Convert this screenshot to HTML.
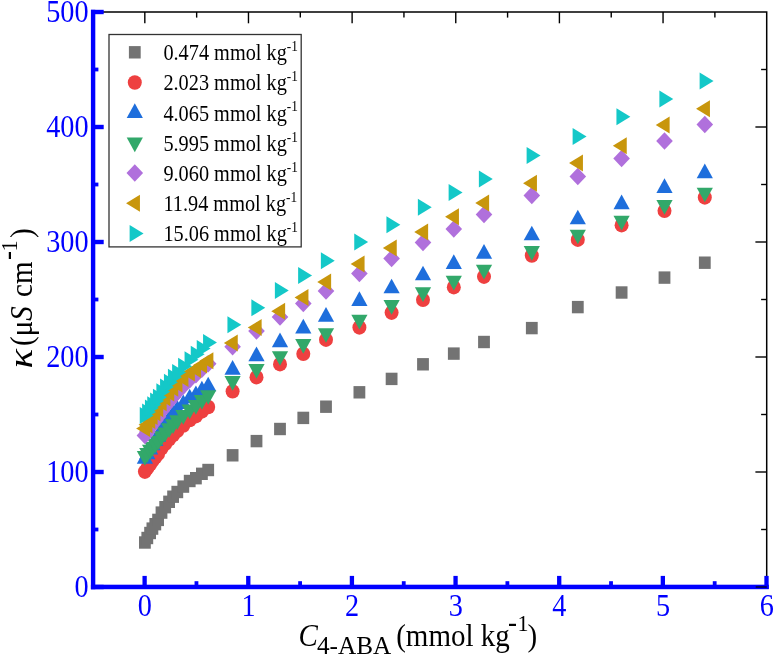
<!DOCTYPE html>
<html><head><meta charset="utf-8"><title>chart</title>
<style>
html,body{margin:0;padding:0;background:#fff;}
body{width:774px;height:657px;position:relative;overflow:hidden;font-family:"Liberation Serif",serif;}
svg{display:block;will-change:transform;}
</style></head><body>
<svg width="774" height="657" viewBox="0 0 774 657" style="position:absolute;left:0;top:0">
<rect width="774" height="657" fill="#fff"/>
<rect x="139.00" y="536.30" width="11.8" height="12.4" fill="#737373"/>
<rect x="141.40" y="531.80" width="11.8" height="12.4" fill="#737373"/>
<rect x="144.20" y="526.80" width="11.8" height="12.4" fill="#737373"/>
<rect x="146.50" y="522.40" width="11.8" height="12.4" fill="#737373"/>
<rect x="149.40" y="518.00" width="11.8" height="12.4" fill="#737373"/>
<rect x="152.20" y="513.70" width="11.8" height="12.4" fill="#737373"/>
<rect x="155.60" y="506.40" width="11.8" height="12.4" fill="#737373"/>
<rect x="159.30" y="501.00" width="11.8" height="12.4" fill="#737373"/>
<rect x="163.20" y="495.60" width="11.8" height="12.4" fill="#737373"/>
<rect x="167.20" y="490.50" width="11.8" height="12.4" fill="#737373"/>
<rect x="171.40" y="485.80" width="11.8" height="12.4" fill="#737373"/>
<rect x="177.40" y="480.40" width="11.8" height="12.4" fill="#737373"/>
<rect x="183.80" y="474.80" width="11.8" height="12.4" fill="#737373"/>
<rect x="190.00" y="472.00" width="11.8" height="12.4" fill="#737373"/>
<rect x="196.00" y="467.60" width="11.8" height="12.4" fill="#737373"/>
<rect x="202.30" y="463.80" width="11.8" height="12.4" fill="#737373"/>
<rect x="226.70" y="449.10" width="11.8" height="12.4" fill="#737373"/>
<rect x="250.60" y="434.90" width="11.8" height="12.4" fill="#737373"/>
<rect x="274.10" y="422.80" width="11.8" height="12.4" fill="#737373"/>
<rect x="297.40" y="411.70" width="11.8" height="12.4" fill="#737373"/>
<rect x="320.10" y="400.50" width="11.8" height="12.4" fill="#737373"/>
<rect x="353.50" y="386.10" width="11.8" height="12.4" fill="#737373"/>
<rect x="385.70" y="372.70" width="11.8" height="12.4" fill="#737373"/>
<rect x="417.10" y="358.10" width="11.8" height="12.4" fill="#737373"/>
<rect x="447.90" y="347.40" width="11.8" height="12.4" fill="#737373"/>
<rect x="478.10" y="335.80" width="11.8" height="12.4" fill="#737373"/>
<rect x="525.90" y="321.90" width="11.8" height="12.4" fill="#737373"/>
<rect x="571.90" y="300.90" width="11.8" height="12.4" fill="#737373"/>
<rect x="615.70" y="286.30" width="11.8" height="12.4" fill="#737373"/>
<rect x="658.60" y="271.40" width="11.8" height="12.4" fill="#737373"/>
<rect x="698.90" y="256.50" width="11.8" height="12.4" fill="#737373"/>
<ellipse cx="144.90" cy="471.60" rx="7.0" ry="7.3" fill="#EE4040"/>
<ellipse cx="147.30" cy="468.14" rx="7.0" ry="7.3" fill="#EE4040"/>
<ellipse cx="150.10" cy="464.24" rx="7.0" ry="7.3" fill="#EE4040"/>
<ellipse cx="152.40" cy="460.87" rx="7.0" ry="7.3" fill="#EE4040"/>
<ellipse cx="155.30" cy="457.29" rx="7.0" ry="7.3" fill="#EE4040"/>
<ellipse cx="158.10" cy="453.80" rx="7.0" ry="7.3" fill="#EE4040"/>
<ellipse cx="161.50" cy="448.35" rx="7.0" ry="7.3" fill="#EE4040"/>
<ellipse cx="165.20" cy="443.90" rx="7.0" ry="7.3" fill="#EE4040"/>
<ellipse cx="169.10" cy="439.38" rx="7.0" ry="7.3" fill="#EE4040"/>
<ellipse cx="173.10" cy="435.00" rx="7.0" ry="7.3" fill="#EE4040"/>
<ellipse cx="177.30" cy="430.78" rx="7.0" ry="7.3" fill="#EE4040"/>
<ellipse cx="183.30" cy="425.51" rx="7.0" ry="7.3" fill="#EE4040"/>
<ellipse cx="189.70" cy="419.98" rx="7.0" ry="7.3" fill="#EE4040"/>
<ellipse cx="195.90" cy="416.14" rx="7.0" ry="7.3" fill="#EE4040"/>
<ellipse cx="201.90" cy="411.45" rx="7.0" ry="7.3" fill="#EE4040"/>
<ellipse cx="208.20" cy="407.00" rx="7.0" ry="7.3" fill="#EE4040"/>
<ellipse cx="232.60" cy="391.30" rx="7.0" ry="7.3" fill="#EE4040"/>
<ellipse cx="256.50" cy="377.20" rx="7.0" ry="7.3" fill="#EE4040"/>
<ellipse cx="280.00" cy="364.20" rx="7.0" ry="7.3" fill="#EE4040"/>
<ellipse cx="303.30" cy="353.80" rx="7.0" ry="7.3" fill="#EE4040"/>
<ellipse cx="326.00" cy="339.70" rx="7.0" ry="7.3" fill="#EE4040"/>
<ellipse cx="359.40" cy="327.40" rx="7.0" ry="7.3" fill="#EE4040"/>
<ellipse cx="391.60" cy="312.60" rx="7.0" ry="7.3" fill="#EE4040"/>
<ellipse cx="423.00" cy="299.80" rx="7.0" ry="7.3" fill="#EE4040"/>
<ellipse cx="453.80" cy="287.20" rx="7.0" ry="7.3" fill="#EE4040"/>
<ellipse cx="484.00" cy="276.60" rx="7.0" ry="7.3" fill="#EE4040"/>
<ellipse cx="531.80" cy="255.50" rx="7.0" ry="7.3" fill="#EE4040"/>
<ellipse cx="577.80" cy="239.70" rx="7.0" ry="7.3" fill="#EE4040"/>
<ellipse cx="621.60" cy="225.20" rx="7.0" ry="7.3" fill="#EE4040"/>
<ellipse cx="664.50" cy="210.80" rx="7.0" ry="7.3" fill="#EE4040"/>
<ellipse cx="704.80" cy="197.40" rx="7.0" ry="7.3" fill="#EE4040"/>
<polygon points="144.90,448.95 136.80,463.65 153.00,463.65" fill="#1E6EDC"/>
<polygon points="147.30,444.64 139.20,459.34 155.40,459.34" fill="#1E6EDC"/>
<polygon points="150.10,439.83 142.00,454.53 158.20,454.53" fill="#1E6EDC"/>
<polygon points="152.40,435.62 144.30,450.32 160.50,450.32" fill="#1E6EDC"/>
<polygon points="155.30,431.34 147.20,446.04 163.40,446.04" fill="#1E6EDC"/>
<polygon points="158.10,427.16 150.00,441.86 166.20,441.86" fill="#1E6EDC"/>
<polygon points="161.50,420.22 153.40,434.92 169.60,434.92" fill="#1E6EDC"/>
<polygon points="165.20,414.95 157.10,429.65 173.30,429.65" fill="#1E6EDC"/>
<polygon points="169.10,409.66 161.00,424.36 177.20,424.36" fill="#1E6EDC"/>
<polygon points="173.10,404.62 165.00,419.32 181.20,419.32" fill="#1E6EDC"/>
<polygon points="177.30,399.92 169.20,414.62 185.40,414.62" fill="#1E6EDC"/>
<polygon points="183.30,394.39 175.20,409.09 191.40,409.09" fill="#1E6EDC"/>
<polygon points="189.70,388.64 181.60,403.34 197.80,403.34" fill="#1E6EDC"/>
<polygon points="195.90,385.41 187.80,400.11 204.00,400.11" fill="#1E6EDC"/>
<polygon points="201.90,380.78 193.80,395.48 210.00,395.48" fill="#1E6EDC"/>
<polygon points="208.20,376.65 200.10,391.35 216.30,391.35" fill="#1E6EDC"/>
<polygon points="232.60,360.05 224.50,374.75 240.70,374.75" fill="#1E6EDC"/>
<polygon points="256.50,346.45 248.40,361.15 264.60,361.15" fill="#1E6EDC"/>
<polygon points="280.00,332.45 271.90,347.15 288.10,347.15" fill="#1E6EDC"/>
<polygon points="303.30,318.75 295.20,333.45 311.40,333.45" fill="#1E6EDC"/>
<polygon points="326.00,307.05 317.90,321.75 334.10,321.75" fill="#1E6EDC"/>
<polygon points="359.40,291.25 351.30,305.95 367.50,305.95" fill="#1E6EDC"/>
<polygon points="391.60,278.65 383.50,293.35 399.70,293.35" fill="#1E6EDC"/>
<polygon points="423.00,265.65 414.90,280.35 431.10,280.35" fill="#1E6EDC"/>
<polygon points="453.80,254.35 445.70,269.05 461.90,269.05" fill="#1E6EDC"/>
<polygon points="484.00,243.95 475.90,258.65 492.10,258.65" fill="#1E6EDC"/>
<polygon points="531.80,225.65 523.70,240.35 539.90,240.35" fill="#1E6EDC"/>
<polygon points="577.80,209.65 569.70,224.35 585.90,224.35" fill="#1E6EDC"/>
<polygon points="621.60,194.55 613.50,209.25 629.70,209.25" fill="#1E6EDC"/>
<polygon points="664.50,178.25 656.40,192.95 672.60,192.95" fill="#1E6EDC"/>
<polygon points="704.80,163.55 696.70,178.25 712.90,178.25" fill="#1E6EDC"/>
<polygon points="144.90,465.65 136.80,450.95 153.00,450.95" fill="#32A86A"/>
<polygon points="147.30,462.76 139.20,448.06 155.40,448.06" fill="#32A86A"/>
<polygon points="150.10,459.47 142.00,444.77 158.20,444.77" fill="#32A86A"/>
<polygon points="152.40,456.66 144.30,441.96 160.50,441.96" fill="#32A86A"/>
<polygon points="155.30,453.52 147.20,438.82 163.40,438.82" fill="#32A86A"/>
<polygon points="158.10,450.46 150.00,435.76 166.20,435.76" fill="#32A86A"/>
<polygon points="161.50,446.05 153.40,431.35 169.60,431.35" fill="#32A86A"/>
<polygon points="165.20,442.11 157.10,427.41 173.30,427.41" fill="#32A86A"/>
<polygon points="169.10,438.05 161.00,423.35 177.20,423.35" fill="#32A86A"/>
<polygon points="173.10,434.03 165.00,419.33 181.20,419.33" fill="#32A86A"/>
<polygon points="177.30,430.04 169.20,415.34 185.40,415.34" fill="#32A86A"/>
<polygon points="183.30,424.77 175.20,410.07 191.40,410.07" fill="#32A86A"/>
<polygon points="189.70,419.20 181.60,404.50 197.80,404.50" fill="#32A86A"/>
<polygon points="195.90,414.69 187.80,399.99 204.00,399.99" fill="#32A86A"/>
<polygon points="201.90,409.76 193.80,395.06 210.00,395.06" fill="#32A86A"/>
<polygon points="208.20,404.85 200.10,390.15 216.30,390.15" fill="#32A86A"/>
<polygon points="232.60,390.75 224.50,376.05 240.70,376.05" fill="#32A86A"/>
<polygon points="256.50,378.65 248.40,363.95 264.60,363.95" fill="#32A86A"/>
<polygon points="280.00,365.85 271.90,351.15 288.10,351.15" fill="#32A86A"/>
<polygon points="303.30,353.75 295.20,339.05 311.40,339.05" fill="#32A86A"/>
<polygon points="326.00,342.85 317.90,328.15 334.10,328.15" fill="#32A86A"/>
<polygon points="359.40,329.55 351.30,314.85 367.50,314.85" fill="#32A86A"/>
<polygon points="391.60,314.65 383.50,299.95 399.70,299.95" fill="#32A86A"/>
<polygon points="423.00,302.05 414.90,287.35 431.10,287.35" fill="#32A86A"/>
<polygon points="453.80,290.45 445.70,275.75 461.90,275.75" fill="#32A86A"/>
<polygon points="484.00,279.45 475.90,264.75 492.10,264.75" fill="#32A86A"/>
<polygon points="531.80,260.65 523.70,245.95 539.90,245.95" fill="#32A86A"/>
<polygon points="577.80,244.35 569.70,229.65 585.90,229.65" fill="#32A86A"/>
<polygon points="621.60,230.55 613.50,215.85 629.70,215.85" fill="#32A86A"/>
<polygon points="664.50,214.75 656.40,200.05 672.60,200.05" fill="#32A86A"/>
<polygon points="704.80,202.35 696.70,187.65 712.90,187.65" fill="#32A86A"/>
<polygon points="144.90,426.75 153.20,435.50 144.90,444.25 136.60,435.50" fill="#B070DC"/>
<polygon points="147.30,423.17 155.60,431.92 147.30,440.67 139.00,431.92" fill="#B070DC"/>
<polygon points="150.10,419.11 158.40,427.86 150.10,436.61 141.80,427.86" fill="#B070DC"/>
<polygon points="152.40,415.63 160.70,424.38 152.40,433.13 144.10,424.38" fill="#B070DC"/>
<polygon points="155.30,411.81 163.60,420.56 155.30,429.31 147.00,420.56" fill="#B070DC"/>
<polygon points="158.10,408.10 166.40,416.85 158.10,425.60 149.80,416.85" fill="#B070DC"/>
<polygon points="161.50,402.56 169.80,411.31 161.50,420.06 153.20,411.31" fill="#B070DC"/>
<polygon points="165.20,397.80 173.50,406.55 165.20,415.30 156.90,406.55" fill="#B070DC"/>
<polygon points="169.10,392.92 177.40,401.67 169.10,410.42 160.80,401.67" fill="#B070DC"/>
<polygon points="173.10,388.13 181.40,396.88 173.10,405.63 164.80,396.88" fill="#B070DC"/>
<polygon points="177.30,383.43 185.60,392.18 177.30,400.93 169.00,392.18" fill="#B070DC"/>
<polygon points="183.30,377.36 191.60,386.11 183.30,394.86 175.00,386.11" fill="#B070DC"/>
<polygon points="189.70,370.97 198.00,379.72 189.70,388.47 181.40,379.72" fill="#B070DC"/>
<polygon points="195.90,366.07 204.20,374.82 195.90,383.57 187.60,374.82" fill="#B070DC"/>
<polygon points="201.90,360.50 210.20,369.25 201.90,378.00 193.60,369.25" fill="#B070DC"/>
<polygon points="208.20,355.05 216.50,363.80 208.20,372.55 199.90,363.80" fill="#B070DC"/>
<polygon points="232.60,337.95 240.90,346.70 232.60,355.45 224.30,346.70" fill="#B070DC"/>
<polygon points="256.50,322.35 264.80,331.10 256.50,339.85 248.20,331.10" fill="#B070DC"/>
<polygon points="280.00,308.15 288.30,316.90 280.00,325.65 271.70,316.90" fill="#B070DC"/>
<polygon points="303.30,294.65 311.60,303.40 303.30,312.15 295.00,303.40" fill="#B070DC"/>
<polygon points="326.00,282.25 334.30,291.00 326.00,299.75 317.70,291.00" fill="#B070DC"/>
<polygon points="359.40,264.75 367.70,273.50 359.40,282.25 351.10,273.50" fill="#B070DC"/>
<polygon points="391.60,249.75 399.90,258.50 391.60,267.25 383.30,258.50" fill="#B070DC"/>
<polygon points="423.00,233.85 431.30,242.60 423.00,251.35 414.70,242.60" fill="#B070DC"/>
<polygon points="453.80,220.15 462.10,228.90 453.80,237.65 445.50,228.90" fill="#B070DC"/>
<polygon points="484.00,205.85 492.30,214.60 484.00,223.35 475.70,214.60" fill="#B070DC"/>
<polygon points="531.80,186.85 540.10,195.60 531.80,204.35 523.50,195.60" fill="#B070DC"/>
<polygon points="577.80,167.65 586.10,176.40 577.80,185.15 569.50,176.40" fill="#B070DC"/>
<polygon points="621.60,149.85 629.90,158.60 621.60,167.35 613.30,158.60" fill="#B070DC"/>
<polygon points="664.50,132.25 672.80,141.00 664.50,149.75 656.20,141.00" fill="#B070DC"/>
<polygon points="704.80,115.75 713.10,124.50 704.80,133.25 696.50,124.50" fill="#B070DC"/>
<polygon points="136.15,428.60 150.05,420.10 150.05,437.10" fill="#C8960C"/>
<polygon points="138.55,424.72 152.45,416.22 152.45,433.22" fill="#C8960C"/>
<polygon points="141.35,420.38 155.25,411.88 155.25,428.88" fill="#C8960C"/>
<polygon points="143.65,416.59 157.55,408.09 157.55,425.09" fill="#C8960C"/>
<polygon points="146.55,412.68 160.45,404.18 160.45,421.18" fill="#C8960C"/>
<polygon points="149.35,408.86 163.25,400.36 163.25,417.36" fill="#C8960C"/>
<polygon points="152.75,402.67 166.65,394.17 166.65,411.17" fill="#C8960C"/>
<polygon points="156.45,397.84 170.35,389.34 170.35,406.34" fill="#C8960C"/>
<polygon points="160.35,392.97 174.25,384.47 174.25,401.47" fill="#C8960C"/>
<polygon points="164.35,388.29 178.25,379.79 178.25,396.79" fill="#C8960C"/>
<polygon points="168.55,383.88 182.45,375.38 182.45,392.38" fill="#C8960C"/>
<polygon points="174.55,378.55 188.45,370.05 188.45,387.05" fill="#C8960C"/>
<polygon points="180.95,372.99 194.85,364.49 194.85,381.49" fill="#C8960C"/>
<polygon points="187.15,369.57 201.05,361.07 201.05,378.07" fill="#C8960C"/>
<polygon points="193.15,364.99 207.05,356.49 207.05,373.49" fill="#C8960C"/>
<polygon points="199.45,360.80 213.35,352.30 213.35,369.30" fill="#C8960C"/>
<polygon points="223.85,343.00 237.75,334.50 237.75,351.50" fill="#C8960C"/>
<polygon points="247.75,327.50 261.65,319.00 261.65,336.00" fill="#C8960C"/>
<polygon points="271.25,311.20 285.15,302.70 285.15,319.70" fill="#C8960C"/>
<polygon points="294.55,297.50 308.45,289.00 308.45,306.00" fill="#C8960C"/>
<polygon points="317.25,282.00 331.15,273.50 331.15,290.50" fill="#C8960C"/>
<polygon points="350.65,264.00 364.55,255.50 364.55,272.50" fill="#C8960C"/>
<polygon points="382.85,247.90 396.75,239.40 396.75,256.40" fill="#C8960C"/>
<polygon points="414.25,232.00 428.15,223.50 428.15,240.50" fill="#C8960C"/>
<polygon points="445.05,216.80 458.95,208.30 458.95,225.30" fill="#C8960C"/>
<polygon points="475.25,203.10 489.15,194.60 489.15,211.60" fill="#C8960C"/>
<polygon points="523.05,183.30 536.95,174.80 536.95,191.80" fill="#C8960C"/>
<polygon points="569.05,163.00 582.95,154.50 582.95,171.50" fill="#C8960C"/>
<polygon points="612.85,145.70 626.75,137.20 626.75,154.20" fill="#C8960C"/>
<polygon points="655.75,125.00 669.65,116.50 669.65,133.50" fill="#C8960C"/>
<polygon points="696.05,108.70 709.95,100.20 709.95,117.20" fill="#C8960C"/>
<polygon points="153.65,415.60 139.75,407.10 139.75,424.10" fill="#14C8C8"/>
<polygon points="156.05,412.09 142.15,403.59 142.15,420.59" fill="#14C8C8"/>
<polygon points="158.85,408.10 144.95,399.60 144.95,416.60" fill="#14C8C8"/>
<polygon points="161.15,404.71 147.25,396.21 147.25,413.21" fill="#14C8C8"/>
<polygon points="164.05,400.90 150.15,392.40 150.15,409.40" fill="#14C8C8"/>
<polygon points="166.85,397.21 152.95,388.71 152.95,405.71" fill="#14C8C8"/>
<polygon points="170.25,391.85 156.35,383.35 156.35,400.35" fill="#14C8C8"/>
<polygon points="173.95,387.09 160.05,378.59 160.05,395.59" fill="#14C8C8"/>
<polygon points="177.85,382.20 163.95,373.70 163.95,390.70" fill="#14C8C8"/>
<polygon points="181.85,377.37 167.95,368.87 167.95,385.87" fill="#14C8C8"/>
<polygon points="186.05,372.57 172.15,364.07 172.15,381.07" fill="#14C8C8"/>
<polygon points="192.05,366.28 178.15,357.78 178.15,374.78" fill="#14C8C8"/>
<polygon points="198.45,359.63 184.55,351.13 184.55,368.13" fill="#14C8C8"/>
<polygon points="204.65,354.29 190.75,345.79 190.75,362.79" fill="#14C8C8"/>
<polygon points="210.65,348.42 196.75,339.92 196.75,356.92" fill="#14C8C8"/>
<polygon points="216.95,342.60 203.05,334.10 203.05,351.10" fill="#14C8C8"/>
<polygon points="241.35,324.70 227.45,316.20 227.45,333.20" fill="#14C8C8"/>
<polygon points="265.25,307.80 251.35,299.30 251.35,316.30" fill="#14C8C8"/>
<polygon points="288.75,290.50 274.85,282.00 274.85,299.00" fill="#14C8C8"/>
<polygon points="312.05,275.50 298.15,267.00 298.15,284.00" fill="#14C8C8"/>
<polygon points="334.75,260.70 320.85,252.20 320.85,269.20" fill="#14C8C8"/>
<polygon points="368.15,242.00 354.25,233.50 354.25,250.50" fill="#14C8C8"/>
<polygon points="400.35,224.70 386.45,216.20 386.45,233.20" fill="#14C8C8"/>
<polygon points="431.75,207.30 417.85,198.80 417.85,215.80" fill="#14C8C8"/>
<polygon points="462.55,192.40 448.65,183.90 448.65,200.90" fill="#14C8C8"/>
<polygon points="492.75,179.00 478.85,170.50 478.85,187.50" fill="#14C8C8"/>
<polygon points="540.55,155.60 526.65,147.10 526.65,164.10" fill="#14C8C8"/>
<polygon points="586.55,136.40 572.65,127.90 572.65,144.90" fill="#14C8C8"/>
<polygon points="630.35,116.70 616.45,108.20 616.45,125.20" fill="#14C8C8"/>
<polygon points="673.25,99.10 659.35,90.60 659.35,107.60" fill="#14C8C8"/>
<polygon points="713.55,81.00 699.65,72.50 699.65,89.50" fill="#14C8C8"/>
<path d="M93.0 12.0 H766.7 V587.0" fill="none" stroke="#000" stroke-width="1.5"/>
<line x1="144.82" y1="12.0" x2="144.82" y2="23.3" stroke="#000" stroke-width="1.4"/>
<line x1="196.65" y1="12.0" x2="196.65" y2="17.6" stroke="#000" stroke-width="1.4"/>
<line x1="248.47" y1="12.0" x2="248.47" y2="23.3" stroke="#000" stroke-width="1.4"/>
<line x1="300.29" y1="12.0" x2="300.29" y2="17.6" stroke="#000" stroke-width="1.4"/>
<line x1="352.12" y1="12.0" x2="352.12" y2="23.3" stroke="#000" stroke-width="1.4"/>
<line x1="403.94" y1="12.0" x2="403.94" y2="17.6" stroke="#000" stroke-width="1.4"/>
<line x1="455.76" y1="12.0" x2="455.76" y2="23.3" stroke="#000" stroke-width="1.4"/>
<line x1="507.58" y1="12.0" x2="507.58" y2="17.6" stroke="#000" stroke-width="1.4"/>
<line x1="559.41" y1="12.0" x2="559.41" y2="23.3" stroke="#000" stroke-width="1.4"/>
<line x1="611.23" y1="12.0" x2="611.23" y2="17.6" stroke="#000" stroke-width="1.4"/>
<line x1="663.05" y1="12.0" x2="663.05" y2="23.3" stroke="#000" stroke-width="1.4"/>
<line x1="714.88" y1="12.0" x2="714.88" y2="17.6" stroke="#000" stroke-width="1.4"/>
<line x1="766.7" y1="587.00" x2="755.4000000000001" y2="587.00" stroke="#000" stroke-width="1.4"/>
<line x1="766.7" y1="529.50" x2="761.1" y2="529.50" stroke="#000" stroke-width="1.4"/>
<line x1="766.7" y1="472.00" x2="755.4000000000001" y2="472.00" stroke="#000" stroke-width="1.4"/>
<line x1="766.7" y1="414.50" x2="761.1" y2="414.50" stroke="#000" stroke-width="1.4"/>
<line x1="766.7" y1="357.00" x2="755.4000000000001" y2="357.00" stroke="#000" stroke-width="1.4"/>
<line x1="766.7" y1="299.50" x2="761.1" y2="299.50" stroke="#000" stroke-width="1.4"/>
<line x1="766.7" y1="242.00" x2="755.4000000000001" y2="242.00" stroke="#000" stroke-width="1.4"/>
<line x1="766.7" y1="184.50" x2="761.1" y2="184.50" stroke="#000" stroke-width="1.4"/>
<line x1="766.7" y1="127.00" x2="755.4000000000001" y2="127.00" stroke="#000" stroke-width="1.4"/>
<line x1="766.7" y1="69.50" x2="761.1" y2="69.50" stroke="#000" stroke-width="1.4"/>
<rect x="90.9" y="9.8" width="4.4" height="579.4" fill="#0000FF"/>
<rect x="90.9" y="584.7" width="677.9" height="4.5" fill="#0000FF"/>
<rect x="91" y="584.80" width="12.7" height="4.4" fill="#0000FF"/>
<rect x="91" y="527.60" width="7.4" height="3.8" fill="#0000FF"/>
<rect x="91" y="469.80" width="12.7" height="4.4" fill="#0000FF"/>
<rect x="91" y="412.60" width="7.4" height="3.8" fill="#0000FF"/>
<rect x="91" y="354.80" width="12.7" height="4.4" fill="#0000FF"/>
<rect x="91" y="297.60" width="7.4" height="3.8" fill="#0000FF"/>
<rect x="91" y="239.80" width="12.7" height="4.4" fill="#0000FF"/>
<rect x="91" y="182.60" width="7.4" height="3.8" fill="#0000FF"/>
<rect x="91" y="124.80" width="12.7" height="4.4" fill="#0000FF"/>
<rect x="91" y="67.60" width="7.4" height="3.8" fill="#0000FF"/>
<rect x="91" y="9.80" width="12.7" height="4.4" fill="#0000FF"/>
<rect x="142.47" y="575.9" width="4.3" height="13" fill="#0000FF"/>
<rect x="194.55" y="581.2" width="3.8" height="7.8" fill="#0000FF"/>
<rect x="246.12" y="575.9" width="4.3" height="13" fill="#0000FF"/>
<rect x="298.19" y="581.2" width="3.8" height="7.8" fill="#0000FF"/>
<rect x="349.77" y="575.9" width="4.3" height="13" fill="#0000FF"/>
<rect x="401.84" y="581.2" width="3.8" height="7.8" fill="#0000FF"/>
<rect x="453.41" y="575.9" width="4.3" height="13" fill="#0000FF"/>
<rect x="505.48" y="581.2" width="3.8" height="7.8" fill="#0000FF"/>
<rect x="557.06" y="575.9" width="4.3" height="13" fill="#0000FF"/>
<rect x="609.13" y="581.2" width="3.8" height="7.8" fill="#0000FF"/>
<rect x="660.70" y="575.9" width="4.3" height="13" fill="#0000FF"/>
<rect x="712.78" y="581.2" width="3.8" height="7.8" fill="#0000FF"/>
<rect x="764.35" y="575.9" width="4.3" height="13" fill="#0000FF"/>
<line x1="766.7" y1="587.0" x2="755.7" y2="587.0" stroke="#000" stroke-width="1.2"/>
<rect x="109" y="34.5" width="192.2" height="212.4" fill="#fff" stroke="#333" stroke-width="1.3"/>
<rect x="128.90" y="46.10" width="11.8" height="12.4" fill="#737373"/>
<ellipse cx="134.80" cy="82.50" rx="7.0" ry="7.3" fill="#EE4040"/>
<polygon points="134.80,103.35 126.70,118.05 142.90,118.05" fill="#1E6EDC"/>
<polygon points="134.80,152.25 126.70,137.55 142.90,137.55" fill="#32A86A"/>
<polygon points="134.80,164.35 143.10,173.10 134.80,181.85 126.50,173.10" fill="#B070DC"/>
<polygon points="126.05,203.30 139.95,194.80 139.95,211.80" fill="#C8960C"/>
<polygon points="143.55,233.50 129.65,225.00 129.65,242.00" fill="#14C8C8"/>
<text transform="translate(163.4,60.10) scale(1,1.15)" font-family="Liberation Serif, serif" font-size="20.3" fill="#000">0.474 mmol kg<tspan dy="-8.0" font-size="13.3">-1</tspan></text>
<text transform="translate(163.4,90.30) scale(1,1.15)" font-family="Liberation Serif, serif" font-size="20.3" fill="#000">2.023 mmol kg<tspan dy="-8.0" font-size="13.3">-1</tspan></text>
<text transform="translate(163.4,120.50) scale(1,1.15)" font-family="Liberation Serif, serif" font-size="20.3" fill="#000">4.065 mmol kg<tspan dy="-8.0" font-size="13.3">-1</tspan></text>
<text transform="translate(163.4,150.70) scale(1,1.15)" font-family="Liberation Serif, serif" font-size="20.3" fill="#000">5.995 mmol kg<tspan dy="-8.0" font-size="13.3">-1</tspan></text>
<text transform="translate(163.4,180.90) scale(1,1.15)" font-family="Liberation Serif, serif" font-size="20.3" fill="#000">9.060 mmol kg<tspan dy="-8.0" font-size="13.3">-1</tspan></text>
<text transform="translate(163.4,211.10) scale(1,1.15)" font-family="Liberation Serif, serif" font-size="20.3" fill="#000">11.94 mmol kg<tspan dy="-8.0" font-size="13.3">-1</tspan></text>
<text transform="translate(163.4,241.30) scale(1,1.15)" font-family="Liberation Serif, serif" font-size="20.3" fill="#000">15.06 mmol kg<tspan dy="-8.0" font-size="13.3">-1</tspan></text>
<text transform="translate(88.6,597.10) scale(0.975,1.105)" text-anchor="end" font-family="Liberation Serif, serif" font-size="29" fill="#0000FF">0</text>
<text transform="translate(88.6,482.10) scale(0.975,1.105)" text-anchor="end" font-family="Liberation Serif, serif" font-size="29" fill="#0000FF">100</text>
<text transform="translate(88.6,367.10) scale(0.975,1.105)" text-anchor="end" font-family="Liberation Serif, serif" font-size="29" fill="#0000FF">200</text>
<text transform="translate(88.6,252.10) scale(0.975,1.105)" text-anchor="end" font-family="Liberation Serif, serif" font-size="29" fill="#0000FF">300</text>
<text transform="translate(88.6,137.10) scale(0.975,1.105)" text-anchor="end" font-family="Liberation Serif, serif" font-size="29" fill="#0000FF">400</text>
<text transform="translate(88.6,22.10) scale(0.975,1.105)" text-anchor="end" font-family="Liberation Serif, serif" font-size="29" fill="#0000FF">500</text>
<text transform="translate(144.82,615.6) scale(0.975,1.105)" text-anchor="middle" font-family="Liberation Serif, serif" font-size="29" fill="#0000FF">0</text>
<text transform="translate(248.47,615.6) scale(0.975,1.105)" text-anchor="middle" font-family="Liberation Serif, serif" font-size="29" fill="#0000FF">1</text>
<text transform="translate(352.12,615.6) scale(0.975,1.105)" text-anchor="middle" font-family="Liberation Serif, serif" font-size="29" fill="#0000FF">2</text>
<text transform="translate(455.76,615.6) scale(0.975,1.105)" text-anchor="middle" font-family="Liberation Serif, serif" font-size="29" fill="#0000FF">3</text>
<text transform="translate(559.41,615.6) scale(0.975,1.105)" text-anchor="middle" font-family="Liberation Serif, serif" font-size="29" fill="#0000FF">4</text>
<text transform="translate(663.05,615.6) scale(0.975,1.105)" text-anchor="middle" font-family="Liberation Serif, serif" font-size="29" fill="#0000FF">5</text>
<text transform="translate(766.70,615.6) scale(0.975,1.105)" text-anchor="middle" font-family="Liberation Serif, serif" font-size="29" fill="#0000FF">6</text>
<text transform="translate(298.6,645.5) scale(1,1.07)" font-family="Liberation Serif, serif" font-size="29" font-style="italic" fill="#000">C</text>
<text transform="translate(317.0,654.4) scale(1.0,1.03)" font-family="Liberation Serif, serif" font-size="25.2" fill="#000">4-ABA</text>
<text transform="translate(396.2,645.7) scale(1,1.07)" font-family="Liberation Serif, serif" font-size="29" fill="#000">(mmol kg<tspan dx="-1.8" dy="-13.1" font-size="27">-</tspan><tspan dx="0.7" dy="-0.9" font-size="22">1</tspan><tspan dy="14" dx="-1.2">)</tspan></text>
<g transform="translate(31.8,366.6) rotate(-90)"><text transform="translate(-1.9,0) scale(1.2,1.0)" font-family="Liberation Serif, serif" font-size="34" font-style="italic" fill="#000">&#954;</text><text transform="translate(20.6,0) scale(1,1.07)" font-family="Liberation Serif, serif" font-size="29" fill="#000">(&#956;<tspan font-style="italic">S</tspan></text><text transform="translate(69.7,0) scale(1,1.07)" font-family="Liberation Serif, serif" font-size="29" fill="#000">cm<tspan dx="1.6" dy="-13.4" font-size="27">-</tspan><tspan dx="-0.7" font-size="22">1</tspan><tspan dy="13.4" dx="2.6">)</tspan></text></g>
</svg>
</body></html>
